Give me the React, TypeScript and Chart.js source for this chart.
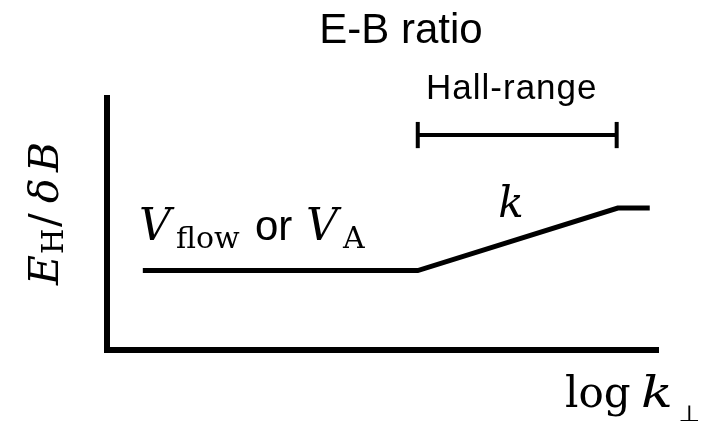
import React, { useEffect, useRef } from "react";
import { Chart, registerables } from "chart.js";

Chart.register(...registerables);

// ---- data (in arbitrary log-k / ratio units) ----
const curveX = [0.65, 5.64, 9.27, 9.85];
const curveY = [3.15, 3.15, 5.63, 5.63];
const hallRangeX = [5.64, 9.25];
const hallRangeY = 8.53;
const hallTickHalf = 0.52;
const xRange = [0, 10];
const yRange = [0, 10];

const SANS = '"Liberation Sans", Arial, sans-serif';
const SERIF = '"DejaVu Serif", serif';

type Seg = { text: string; font: string; dx: number; dy?: number; sx?: number };

function drawSegs(ctx: CanvasRenderingContext2D, x: number, y: number, segs: Seg[]) {
  for (const s of segs) {
    ctx.font = s.font;
    ctx.save();
    ctx.translate(x + s.dx, y + (s.dy || 0));
    if (s.sx) ctx.scale(s.sx, 1);
    ctx.fillText(s.text, 0, 0);
    ctx.restore();
  }
}

const textPlugin = {
  id: "annotText",
  afterDraw(chart: any) {
    const ctx: CanvasRenderingContext2D = chart.ctx;
    const xs = chart.scales.x;
    const ys = chart.scales.y;
    ctx.save();
    ctx.fillStyle = "#000";
    ctx.textBaseline = "alphabetic";

    // title
    ctx.textAlign = "center";
    ctx.font = `42px ${SANS}`;
    ctx.fillText("E-B ratio", 401, 43);

    ctx.textAlign = "left";
    // Hall-range label
    ctx.font = `35px ${SANS}`;
    (ctx as any).letterSpacing = "1px";
    ctx.fillText("Hall-range", xs.getPixelForValue(5.79), ys.getPixelForValue(9.96));
    (ctx as any).letterSpacing = "0px";

    // k label on slope
    ctx.font = `italic 42px ${SERIF}`;
    ctx.fillText("k", xs.getPixelForValue(7.1), ys.getPixelForValue(5.26));

    // V_flow or V_A
    drawSegs(ctx, xs.getPixelForValue(0.58), ys.getPixelForValue(4.37), [
      { text: "V", font: `italic 44px ${SERIF}`, dx: 0 },
      { text: "flow", font: `30px ${SERIF}`, dx: 37, dy: 8 },
      { text: "or", font: `42px ${SANS}`, dx: 116 },
      { text: "V", font: `italic 44px ${SERIF}`, dx: 167 },
      { text: "A", font: `30px ${SERIF}`, dx: 204, dy: 8 },
    ]);

    // x label
    drawSegs(ctx, 565, 407, [
      { text: "log", font: `42px ${SERIF}`, dx: 0 },
      { text: "k", font: `italic 42px ${SERIF}`, dx: 76, sx: 1.25 },
      { text: "\u22A5", font: `24px ${SERIF}`, dx: 113, dy: 15 },
    ]);

    // y label (rotated)
    ctx.translate(58, 283);
    ctx.rotate(-Math.PI / 2);
    drawSegs(ctx, 0, 0, [
      { text: "E", font: `italic 41px ${SERIF}`, dx: -2 },
      { text: "H", font: `29px ${SERIF}`, dx: 29, dy: 5 },
      { text: "/", font: `41px ${SERIF}`, dx: 56 },
      { text: "\u03B4", font: `italic 41px ${SERIF}`, dx: 80 },
      { text: "B", font: `italic 41px ${SERIF}`, dx: 111 },
    ]);
    ctx.restore();
  },
};

export default function App() {
  const ref = useRef<HTMLCanvasElement>(null);
  useEffect(() => {
    if (!ref.current) return;
    const line = { borderColor: "#000", pointRadius: 0, tension: 0, fill: false };
    const chart = new Chart(ref.current, {
      type: "line",
      data: {
        datasets: [
          { ...line, borderWidth: 5, borderJoinStyle: "miter", data: curveX.map((x, i) => ({ x, y: curveY[i] })) },
          { ...line, borderWidth: 4, data: hallRangeX.map((x) => ({ x, y: hallRangeY })) },
          ...hallRangeX.map((x) => ({
            ...line,
            borderWidth: 4,
            data: [
              { x, y: hallRangeY - hallTickHalf },
              { x, y: hallRangeY + hallTickHalf },
            ],
          })),
        ] as any,
      },
      options: {
        animation: false,
        responsive: false,
        devicePixelRatio: 1,
        layout: { padding: { left: 107, right: 45, top: 98, bottom: 71 } },
        plugins: { legend: { display: false }, tooltip: { enabled: false }, title: { display: false } },
        scales: {
          x: {
            type: "linear",
            min: xRange[0],
            max: xRange[1],
            grid: { display: false, drawTicks: false },
            ticks: { display: false },
            border: { display: true, width: 6, color: "#000" },
          },
          y: {
            type: "linear",
            min: yRange[0],
            max: yRange[1],
            grid: { display: false, drawTicks: false },
            ticks: { display: false },
            border: { display: true, width: 6, color: "#000" },
          },
        },
      } as any,
      plugins: [textPlugin],
    });
    return () => chart.destroy();
  }, []);
  return (
    <div style={{ position: "fixed", left: 0, top: 0, width: 703, height: 421, background: "#fff" }}>
      <canvas ref={ref} width={703} height={421} style={{ display: "block", width: 703, height: 421 }} />
    </div>
  );
}
